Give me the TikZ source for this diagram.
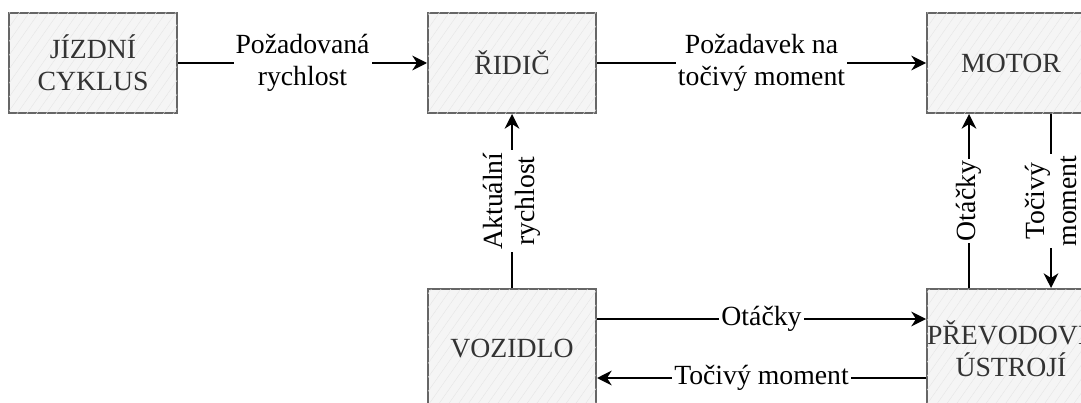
\documentclass[tikz,border=0pt]{standalone}
\usepackage{fontspec}
\setmainfont{Liberation Serif}
\usetikzlibrary{arrows.meta,positioning,patterns.meta}
\definecolor{ramecek}{HTML}{666666}
\definecolor{vypln}{HTML}{F5F5F5}
\definecolor{textbloku}{HTML}{333333}
\tikzset{
	every node/.style={
		font=\fontsize{20.8}{24}\selectfont
	},
	blok/.style={
		shape=rectangle,
		minimum width=126pt,
		minimum height=75pt,
		inner sep=0pt,
		align=center,
		text=textbloku,
		draw=ramecek,
		fill=vypln,
		postaction={pattern={Lines[angle=55,distance=6pt,line width=0.3pt]},pattern color=black!10},
	},
	popis/.style={
		fill=white,
		align=center,
		inner sep=1.5pt,
	},
	myarrow/.style={->},
}
\begin{document}
\begin{tikzpicture}[>={Stealth[length=11pt,width=11pt,inset=3.5pt]},line width=1.5pt]
	\useasboundingbox (0,0) rectangle (810.75pt,-302.25pt);
	\clip (0,0) rectangle (810.75pt,-302.25pt);
	
	% Bloky
	\node[blok]                      (cyklus) at (69.75pt,-47.25pt)      {JÍZDNÍ\\CYKLUS};
	\node[blok]                      (ridic)   [right=186.75pt of cyklus] {ŘIDIČ};
	\node[blok]                      (motor)   [right=246.75pt of ridic]  {MOTOR};
	\node[blok, minimum height=90pt] (vozidlo) [below=130.5pt of ridic]   {VOZIDLO};
	\node[blok, minimum height=90pt] (prevod)  [below=130.5pt of motor]   {PŘEVODOVÉ\\ÚSTROJÍ};
	
	% Horni rada
	\draw[myarrow] (cyklus) -- node[popis] {Požadovaná\\rychlost} (ridic);
	\draw[myarrow] (ridic) -- node[popis] {Požadavek na\\točivý moment} (motor);
	
	% Svisle spoje
	\draw[myarrow] (vozidlo) -- node[popis, rotate=90] {Aktuální\\rychlost} (ridic);
	\draw[myarrow] ([xshift=-31.5pt]prevod.north) -- node[popis, rotate=90] {Otáčky} ([xshift=-31.5pt]motor.south);
	\draw[myarrow] ([xshift=30pt]motor.south) -- node[popis, rotate=90] {Točivý\\moment} ([xshift=30pt]prevod.north);
	
	% Spodni rada
	\draw[myarrow] ([yshift=22.5pt]vozidlo.east) -- node[popis] {Otáčky} ([yshift=22.5pt]prevod.west);
	\draw[myarrow] ([yshift=-21.75pt]prevod.west) -- node[popis] {Točivý moment} ([yshift=-21.75pt]vozidlo.east);
	
\end{tikzpicture}
\end{document}
